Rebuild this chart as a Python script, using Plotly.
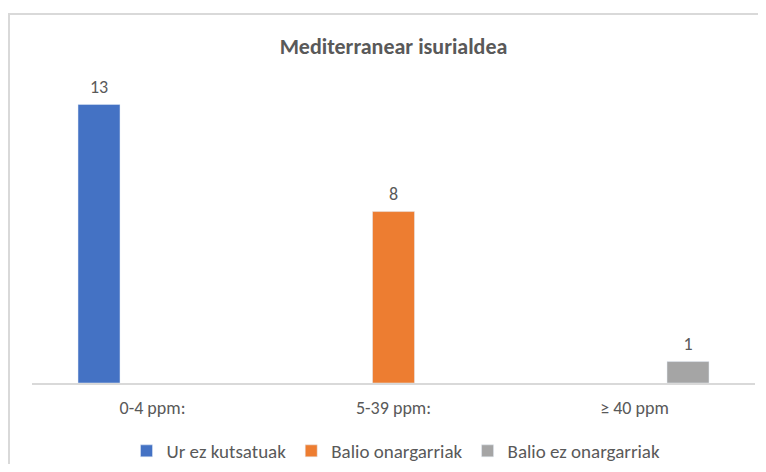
import plotly.graph_objects as go

categories = ["0-4 ppm:", "5-39 ppm:", "≥ 40 ppm"]
series_names = ["Ur ez kutsatuak", "Balio onargarriak", "Balio ez onargarriak"]
ur_ez_kutsatuak = [13, None, None]
balio_onargarriak = [None, 8, None]
balio_ez_onargarriak = [None, None, 1]
colors = ["#4472C4", "#ED7D31", "#A5A5A5"]
title = "Mediterranear isurialdea"

FONT = "Carlito, Calibri, Lato, sans-serif"
GRAY = "#595959"

series = [ur_ez_kutsatuak, balio_onargarriak, balio_ez_onargarriak]

fig = go.Figure()
for i, (name, vals, col) in enumerate(zip(series_names, series, colors)):
    fig.add_trace(go.Bar(
        x=categories, y=vals, name=name, marker_color=col,
        offsetgroup=str(i), hoverinfo="x+y+name",
    ))
for i, (name, vals) in enumerate(zip(series_names, series)):
    fig.add_trace(go.Scatter(
        x=categories, y=vals, name=name, mode="markers+text",
        text=[("" if v is None else str(v)) for v in vals],
        textposition="top center", cliponaxis=False,
        marker=dict(size=10, color="rgba(0,0,0,0)"),
        textfont=dict(family=FONT, size=18, color=GRAY),
        offsetgroup=str(i), showlegend=False, hoverinfo="skip",
    ))

# the page body has an 8px margin; figure sized to fit the 766x472 window
W, H = 750, 456
l, r, t, b = 24, 3, 75, 81
pw, ph = W - l - r, H - t - b

fig.update_layout(
    width=W, height=H,
    margin=dict(l=l, r=r, t=t, b=b, autoexpand=False),
    paper_bgcolor="white", plot_bgcolor="white",
    barmode="group", bargap=0.334, bargroupgap=0.215,
    scattermode="group", scattergap=0.334,
    font=dict(family=FONT, color=GRAY),
    title=dict(text="<b>" + title + "</b>", x=(393.5 - 8) / W, xanchor="center",
               y=1 - 38 / H, yanchor="middle",
               font=dict(family=FONT, size=22, color=GRAY)),
    showlegend=True,
    legend=dict(orientation="h", x=(396 - 8 - l) / pw, xanchor="center", y=(375 - 443) / ph, yanchor="middle",
                font=dict(family=FONT, size=19, color=GRAY), itemwidth=30,
                traceorder="normal"),
    xaxis=dict(showline=True, linecolor="#D9D9D9", linewidth=1.5,
               ticks="outside", ticklen=8, tickcolor="rgba(0,0,0,0)",
               tickfont=dict(family=FONT, size=18, color=GRAY), showgrid=False),
    yaxis=dict(range=[0, 14], visible=False, showgrid=False, zeroline=False),
)

x0 = (1 - l) / pw
y1 = (375 - 6) / ph
fig.add_shape(type="rect", xref="paper", yref="paper", x0=x0, x1=1.1, y0=-0.5, y1=y1,
              line=dict(color="#D9D9D9", width=2), fillcolor="rgba(0,0,0,0)", layer="below")

fig.write_html("out.html")
